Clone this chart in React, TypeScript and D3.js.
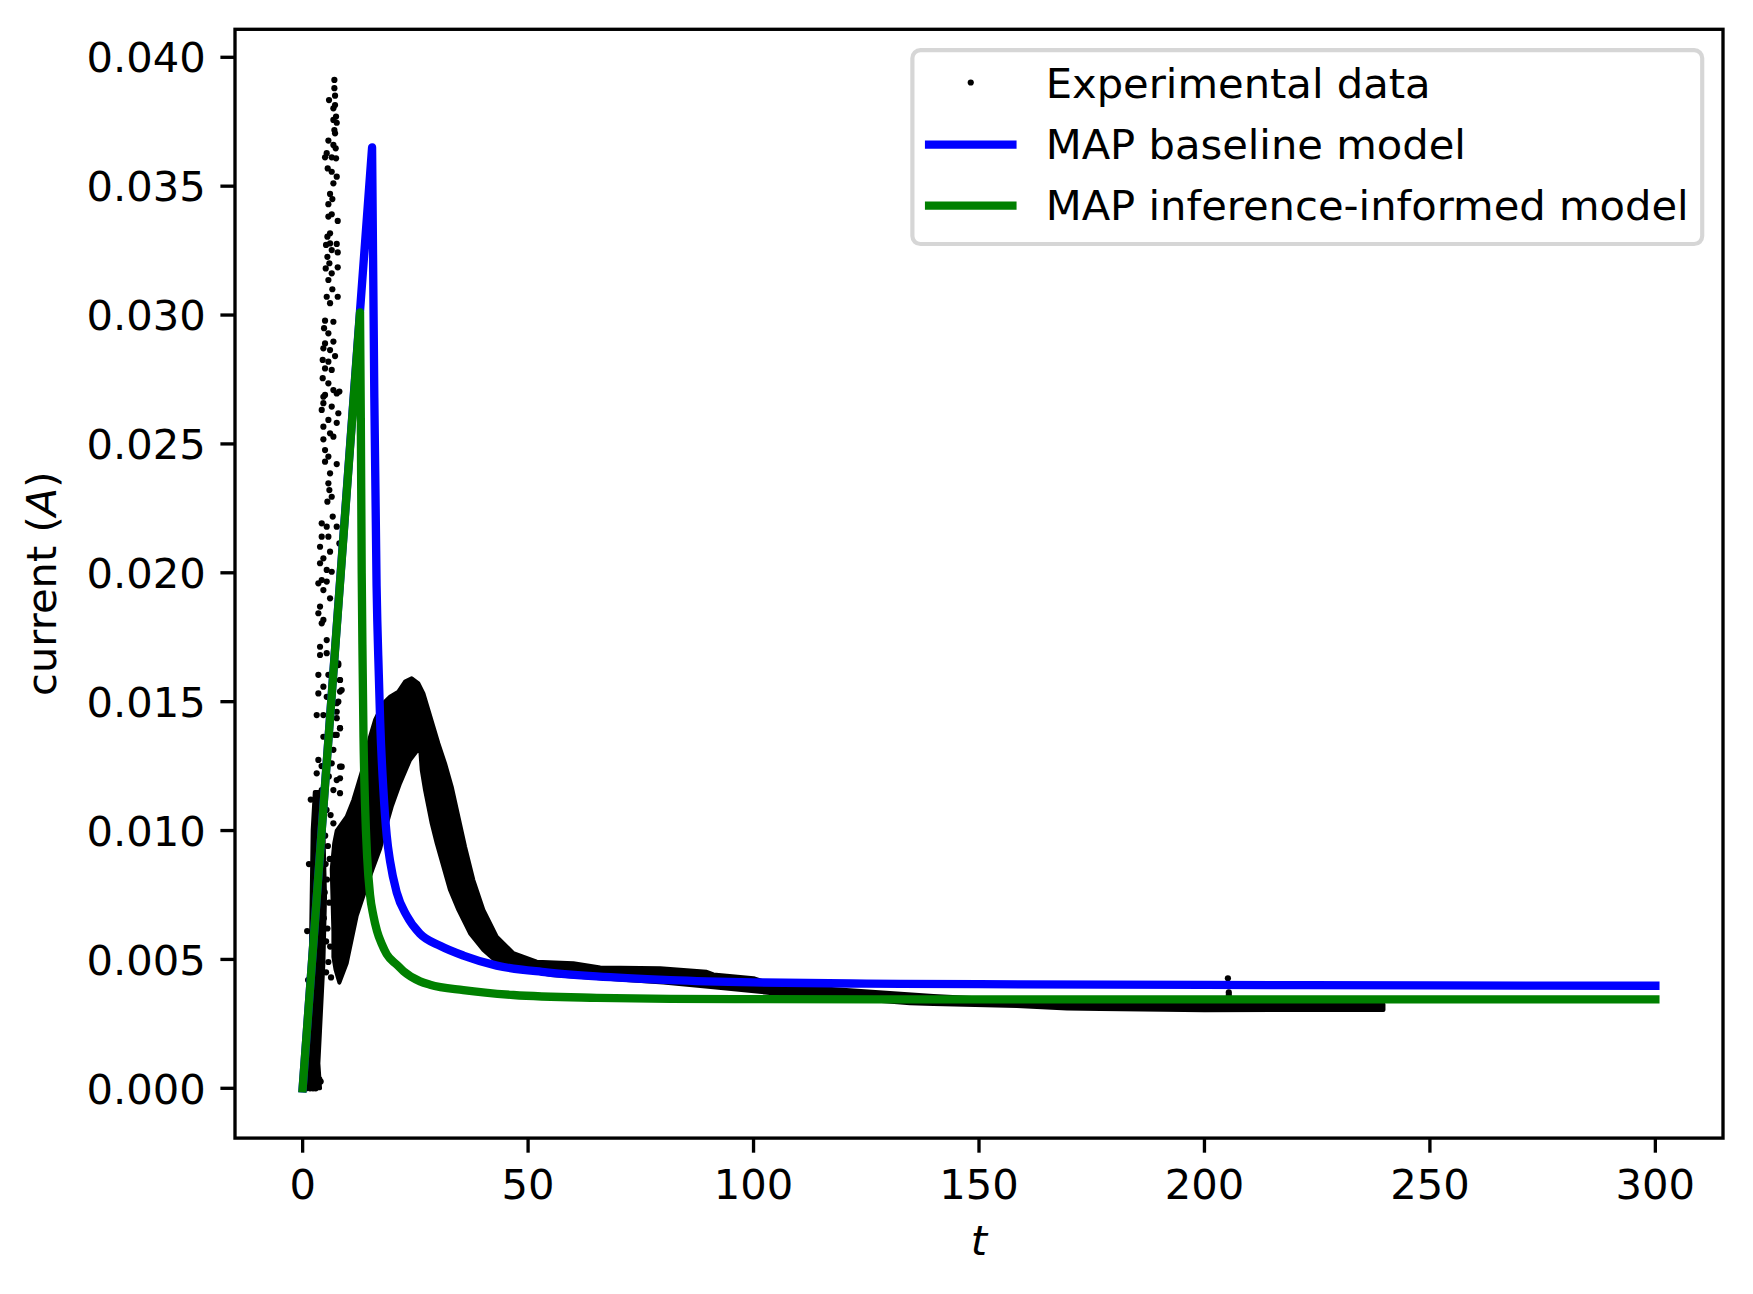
import React from "react";
import * as d3 from "d3";

type P = [number, number];

const xTicks = [0, 50, 100, 150, 200, 250, 300];
const yTicks = [0, 0.005, 0.01, 0.015, 0.02, 0.025, 0.03, 0.035, 0.04];
const yTickLabels = ["0.000", "0.005", "0.010", "0.015", "0.020", "0.025", "0.030", "0.035", "0.040"];
const legendLabels = ["Experimental data", "MAP baseline model", "MAP inference-informed model"];

// MAP baseline model (blue)
const baselineModel: P[] = [
  [0, 0], [15.4, 0.0365], [15.9, 0.0268], [16.4, 0.0195], [16.9, 0.016], [17.2, 0.0142],
  [17.9, 0.0116], [18.65, 0.0098], [19.4, 0.0088], [20.86, 0.0076], [23.08, 0.0067],
  [26.0, 0.006], [30.47, 0.00553], [35.65, 0.00515], [43.04, 0.00476], [54.1, 0.0045],
  [65.2, 0.00434], [81.5, 0.0042], [100, 0.00411], [125, 0.00406], [150, 0.00404],
  [200, 0.00401], [250, 0.00399], [300, 0.00398],
];

// MAP inference-informed model (green)
const informedModel: P[] = [
  [0, 0], [12.73, 0.0301], [12.9, 0.026], [13.1, 0.02], [13.3, 0.0165], [13.5, 0.0136],
  [13.84, 0.011], [14.3, 0.009], [14.95, 0.0075], [15.69, 0.0067], [16.5, 0.0061],
  [17.54, 0.0056], [18.65, 0.0052], [20.86, 0.0048], [22.34, 0.00455], [26.04, 0.00415],
  [28.26, 0.00402], [35.65, 0.00381], [46.74, 0.00362], [65.22, 0.00351], [81.48, 0.00347],
  [100, 0.00346], [150, 0.00345], [200, 0.00345], [250, 0.00345], [300, 0.00345],
];

// Experimental data: sparse points (fast spike region and outliers)
const expSparse: P[] = [
  [7.04, 0.03912], [7.04, 0.0388], [7.19, 0.03851], [5.85, 0.03834], [7.19, 0.03815], [6.82, 0.03802],
  [7.41, 0.0377], [6.82, 0.03757], [7.56, 0.03746], [7.04, 0.03718], [7.19, 0.03705], [5.71, 0.03677],
  [6.82, 0.0366], [7.33, 0.03647], [5.34, 0.03628], [6.45, 0.03612], [4.97, 0.03612], [7.41, 0.03608],
  [5.56, 0.03569], [6.45, 0.03556], [7.56, 0.03537], [6.82, 0.03511], [6.08, 0.0347], [6.59, 0.0345],
  [5.71, 0.0343], [6.45, 0.03391], [5.71, 0.03382], [7.78, 0.03365], [6.08, 0.03317], [5.49, 0.03304],
  [6.08, 0.03278], [7.56, 0.03276], [5.19, 0.03272], [6.45, 0.03252], [7.78, 0.03243], [5.49, 0.03226],
  [5.93, 0.03201], [5.12, 0.03181], [7.78, 0.03185], [6.45, 0.03162], [5.71, 0.03136], [6.59, 0.031],
  [7.78, 0.03071], [5.34, 0.03071], [6.08, 0.03046], [4.97, 0.02978], [6.82, 0.02974], [4.75, 0.02949],
  [5.71, 0.02929], [4.97, 0.0289], [6.82, 0.02897], [4.6, 0.02871], [6.08, 0.02864], [7.19, 0.02841],
  [4.45, 0.02826], [5.71, 0.02819], [4.97, 0.02793], [6.45, 0.02787], [4.45, 0.02755], [5.71, 0.02735],
  [6.82, 0.02709], [8.15, 0.02703], [4.6, 0.02683],
  [4.97, 0.0269], [7.56, 0.02696], [4.6, 0.02658], [6.45, 0.02645], [7.92, 0.02619], [4.23, 0.02632],
  [5.71, 0.02593], [7.56, 0.02582], [4.6, 0.02567], [6.08, 0.02541], [4.6, 0.02518], [6.82, 0.02528],
  [4.97, 0.02476], [5.71, 0.02451], [7.56, 0.02422], [4.97, 0.02431], [6.08, 0.02386], [5.71, 0.02347],
  [5.93, 0.02321], [6.45, 0.02295], [5.49, 0.02276], [6.67, 0.02218], [4.23, 0.02192], [5.34, 0.02179],
  [7.56, 0.02179], [4.23, 0.0214], [5.71, 0.0214], [8.15, 0.02114], [3.86, 0.02101], [6.08, 0.02082],
  [4.6, 0.02056], [3.86, 0.02037], [5.34, 0.02011], [6.45, 0.02004], [4.23, 0.01972], [3.49, 0.01959],
  [5.34, 0.01966], [4.6, 0.01933], [6.08, 0.01901], [3.86, 0.01869], [3.49, 0.01843], [4.6, 0.01817],
  [4.23, 0.01804], [5.34, 0.01739], [3.86, 0.01713], [5.34, 0.01688], [3.86, 0.01681], [7.92, 0.01642],
  [3.49, 0.01604], [5.71, 0.01604], [8.29, 0.01584], [4.6, 0.01558], [3.49, 0.01532], [8.29, 0.01539],
  [5.34, 0.01519], [7.56, 0.01494], [3.12, 0.01448], [4.6, 0.01448], [7.56, 0.01461], [6.08, 0.01422],
  [8.29, 0.01397], [4.6, 0.01364], [7.19, 0.01371],
  [7.56, 0.01371], [3.49, 0.01274], [6.82, 0.01313], [8.29, 0.01248], [3.12, 0.01222], [7.56, 0.01196],
  [4.23, 0.01157], [8.29, 0.01145], [3.49, 0.01067], [2.75, 0.01002], [6.82, 0.01028],
  [7.9, 0.01649], [8.29, 0.01584], [8.66, 0.01545], [7.92, 0.015], [7.56, 0.01436], [8.29, 0.01397],
  [6.45, 0.01261], [8.66, 0.01248], [8.29, 0.01203], [6.82, 0.01157],
  [5.3, 0.0108], [5.6, 0.0094], [5.4, 0.0081], [5.9, 0.0072], [5.5, 0.0062], [6.1, 0.0055],
  [4.9, 0.0118], [5.8, 0.0121], [6.2, 0.0106], [5.0, 0.0098], [4.7, 0.0066], [5.7, 0.0049],
  [6.3, 0.0043], [4.2, 0.0125], [5.1, 0.0087], [6.0, 0.0089], [5.2, 0.0057], [4.9, 0.0076],
  [1.2, 0.0042], [1.0, 0.0061], [1.4, 0.0087], [1.8, 0.0112], [1.1, 0.0022], [5.2, 0.0045],
  [0.8, 0.0], [1.64, 0.0], [2.3, 0.0], [2.9, 0.0], [3.5, 0.00035], [3.71, 0.00035], [4.0, 0.00026],
  [205.2, 0.00427], [205.4, 0.00372], [205.4, 0.00362],
];

// Experimental data: outline of the dense early band (t ~ 0-5)
const expDenseSpike: P[] = [
  [0.16, 0.0], [1.27, 0.00097], [1.49, 0.00226], [1.79, 0.00485], [2.01, 0.00743], [2.23, 0.01002],
  [2.7, 0.0115], [4.3, 0.0115], [4.6, 0.01002], [4.97, 0.00743], [4.6, 0.00485], [3.86, 0.00226],
  [3.49, 0.00097], [3.86, 0.0],
];

// Experimental data: outline of the dense band (second hump and tail)
const expDenseMain: P[] = [
  [8.15, 0.0041], [7.3, 0.0046], [6.82, 0.0051], [6.82, 0.0061], [6.45, 0.0085], [7.0, 0.0095],
  [7.56, 0.01], [9.77, 0.01054], [11.25, 0.01119], [12.36, 0.01183], [13.47, 0.01248], [14.95, 0.01364],
  [16.06, 0.01429], [17.9, 0.01494], [19.38, 0.01519], [21.23, 0.01539], [22.71, 0.01578],
  [24.19, 0.01591], [25.67, 0.01571], [26.78, 0.01532], [27.88, 0.01468], [28.99, 0.01403],
  [30.1, 0.01338], [31.58, 0.01261], [33.06, 0.0117], [34.54, 0.01054], [36.02, 0.00937],
  [37.86, 0.00808], [40.08, 0.00692], [43.04, 0.00588], [46.74, 0.00524], [51.91, 0.00491],
  [60.04, 0.00485], [66.0, 0.00469], [79.3, 0.00466], [89.6, 0.00452], [91.1, 0.00442], [100, 0.00427],
  [105, 0.004], [121.4, 0.0038], [139.9, 0.00358], [154.7, 0.00345], [166, 0.00335], [176.9, 0.0033],
  [200, 0.00328], [239.7, 0.00326],
  [239.7, 0.00304], [200, 0.00303], [176.9, 0.00308], [169.5, 0.0031], [158.4, 0.00319],
  [139.9, 0.00327], [134.7, 0.0033], [120, 0.0035], [105.9, 0.00366], [91.1, 0.00392], [80, 0.0041],
  [66, 0.00427], [55, 0.0044], [48, 0.0046], [43.04, 0.00491], [40.08, 0.00537], [37.13, 0.00601],
  [34.54, 0.00692], [32.69, 0.00769], [31.21, 0.0086], [29.73, 0.00951], [28.62, 0.01028],
  [27.88, 0.01093], [27.15, 0.01157], [26.41, 0.01235], [26.04, 0.01325],
  [23.82, 0.01274], [21.6, 0.01183], [19.75, 0.01093], [18.27, 0.01002], [17.2, 0.0093],
  [15.5, 0.0085], [14.5, 0.008], [12.0, 0.0067], [9.77, 0.00485],
];

const FONT = "'DejaVu Sans', sans-serif";
const FS = 41.67;

export default function App() {
  const left = 235, right = 1723, top = 29.3, bottom = 1138.1;
  const x = d3.scaleLinear().domain([-15, 315]).range([left, right]);
  const y = d3.scaleLinear().domain([-0.001932, 0.041086]).range([bottom, top]);
  const line = d3.line<P>().x((d) => x(d[0])).y((d) => y(d[1]));
  const smooth = d3.line<P>().x((d) => x(d[0])).y((d) => y(d[1])).curve(d3.curveMonotoneX);
  const poly = (pts: P[]) => (line(pts) || "") + "Z";
  // linear rise to the peak, smooth decay afterwards
  const modelPath = (pts: P[]) =>
    (line(pts.slice(0, 2)) || "") + (smooth(pts.slice(1)) || "").replace(/^M/, "L");

  const tickLen = 14.6;
  const tickW = 3.33;
  const lw = 8.33;

  // legend geometry
  const legL = 912.4, legR = 1702.2, legT = 50.1, legB = 244;
  const handleX0 = legL + 16.7, handleX1 = handleX0 + 83.3, textX = handleX1 + 33.3;
  const rowBase = [98, 159, 220];

  return (
    <svg
      width={1753}
      height={1294}
      viewBox="0 0 1753 1294"
      style={{ position: "absolute", left: 0, top: 0, background: "#fff" }}
      fontFamily={FONT}
    >
      <rect x={0} y={0} width={1753} height={1294} fill="#fff" />

      {/* experimental data */}
      <g fill="#000" stroke="#000">
        <path d={poly(expDenseSpike)} strokeWidth={4} strokeLinejoin="round" />
        <path d={poly(expDenseMain)} strokeWidth={4} strokeLinejoin="round" />
        {expSparse.map((d, i) => (
          <circle key={i} cx={x(d[0])} cy={y(d[1])} r={3.1} stroke="none" />
        ))}
      </g>

      {/* models */}
      <path d={modelPath(baselineModel)} fill="none" stroke="#0000ff" strokeWidth={lw}
        strokeLinejoin="round" strokeLinecap="square" />
      <path d={modelPath(informedModel)} fill="none" stroke="#008000" strokeWidth={lw}
        strokeLinejoin="round" strokeLinecap="square" />

      {/* y ticks */}
      {yTicks.map((v, i) => (
        <g key={"y" + i}>
          <line x1={left - tickLen} x2={left} y1={y(v)} y2={y(v)} stroke="#000" strokeWidth={tickW} />
          <text x={left - tickLen - 14.6} y={y(v) + 15.2} fontSize={FS} textAnchor="end" fill="#000">
            {yTickLabels[i]}
          </text>
        </g>
      ))}

      {/* x ticks */}
      {xTicks.map((t, i) => (
        <g key={"x" + i}>
          <line x1={x(t)} x2={x(t)} y1={bottom} y2={bottom + tickLen} stroke="#000" strokeWidth={tickW} />
          <text x={x(t)} y={1199} fontSize={FS} textAnchor="middle" fill="#000">
            {String(t)}
          </text>
        </g>
      ))}

      {/* spines */}
      <rect x={left} y={top} width={right - left} height={bottom - top} fill="none" stroke="#000"
        strokeWidth={3.33} strokeLinejoin="miter" />

      {/* axis labels */}
      <text x={(left + right) / 2} y={1255} fontSize={FS} textAnchor="middle" fontStyle="italic" fill="#000">
        t
      </text>
      <text
        transform={`translate(56, ${(top + bottom) / 2}) rotate(-90)`}
        fontSize={FS}
        textAnchor="middle"
        fill="#000"
      >
        current (<tspan fontStyle="italic">A</tspan>)
      </text>

      {/* legend */}
      <rect x={legL} y={legT} width={legR - legL} height={legB - legT} rx={8} ry={8}
        fill="#fff" fillOpacity={0.8} stroke="#cccccc" strokeOpacity={0.8} strokeWidth={4.17} />
      <circle cx={(handleX0 + handleX1) / 2} cy={rowBase[0] - 15.5} r={3.1} fill="#000" />
      <line x1={handleX0} x2={handleX1} y1={rowBase[1] - 14.3} y2={rowBase[1] - 14.3}
        stroke="#0000ff" strokeWidth={lw} strokeLinecap="square" />
      <line x1={handleX0} x2={handleX1} y1={rowBase[2] - 14.3} y2={rowBase[2] - 14.3}
        stroke="#008000" strokeWidth={lw} strokeLinecap="square" />
      {legendLabels.map((s, i) => (
        <text key={s} x={textX} y={rowBase[i]} fontSize={FS} fill="#000">
          {s}
        </text>
      ))}
    </svg>
  );
}
